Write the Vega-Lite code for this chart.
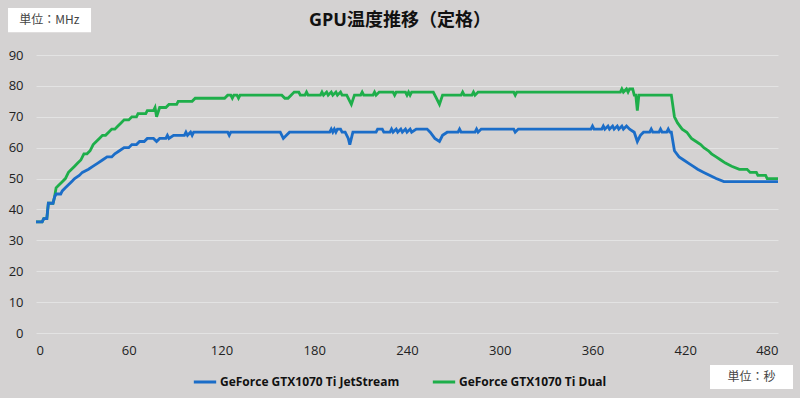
{
  "$schema": "https://vega.github.io/schema/vega-lite/v6.json",
  "width": 742,
  "height": 278,
  "autosize": {"type": "none"},
  "padding": {"left": 36, "top": 55, "right": 22, "bottom": 65},
  "background": "#d4d2d2",
  "title": {"text": "GPU温度推移（定格）", "fontSize": 18, "fontWeight": "bold", "font": "Open Sans, Noto Sans CJK JP", "color": "#111111", "offset": 0, "dy": 22, "dx": -7, "anchor": "middle"},
  "config": {
    "view": {"stroke": null},
    "axis": {"labelFont": "Open Sans", "labelFontSize": 13, "labelColor": "#222222", "ticks": false, "domain": false, "title": null, "labelOverlap": false},
    "legend": {"orient": "none", "legendX": 156, "legendY": 314, "direction": "horizontal", "symbolType": "stroke", "symbolStrokeWidth": 3, "symbolSize": 500, "labelFont": "Open Sans", "labelFontSize": 12, "labelFontWeight": "bold", "labelColor": "#111111", "labelLimit": 400, "columnPadding": 26, "labelOffset": 2, "title": null, "padding": 0}
  },
  "layer": [
    {
      "data": {"values": [
        {"s":"D","t":0,"v":36},{"s":"D","t":4,"v":36},{"s":"D","t":5,"v":37},{"s":"D","t":7,"v":37},{"s":"D","t":8,"v":42},{"s":"D","t":11,"v":42},{"s":"D","t":12,"v":44},{"s":"D","t":13,"v":47},{"s":"D","t":15,"v":48},{"s":"D","t":17,"v":49},{"s":"D","t":19,"v":50},{"s":"D","t":21,"v":52},{"s":"D","t":23,"v":53},{"s":"D","t":25,"v":54},{"s":"D","t":27,"v":55},{"s":"D","t":29,"v":56},{"s":"D","t":31,"v":58},{"s":"D","t":33,"v":58},{"s":"D","t":35,"v":59},{"s":"D","t":37,"v":61},{"s":"D","t":39,"v":62},{"s":"D","t":41,"v":63},{"s":"D","t":43,"v":64},{"s":"D","t":45,"v":64},{"s":"D","t":47,"v":65},{"s":"D","t":49,"v":66},{"s":"D","t":51,"v":66},{"s":"D","t":53,"v":67},{"s":"D","t":55,"v":68},{"s":"D","t":57,"v":69},{"s":"D","t":60,"v":69},{"s":"D","t":62,"v":70},{"s":"D","t":65,"v":70},{"s":"D","t":66,"v":71},{"s":"D","t":71,"v":71},{"s":"D","t":72,"v":72},{"s":"D","t":76,"v":72},{"s":"D","t":77,"v":73},{"s":"D","t":78,"v":70},{"s":"D","t":80,"v":73},{"s":"D","t":84,"v":73},{"s":"D","t":86,"v":74},{"s":"D","t":91,"v":74},{"s":"D","t":92,"v":75},{"s":"D","t":101,"v":75},{"s":"D","t":103,"v":76},{"s":"D","t":122,"v":76},{"s":"D","t":124,"v":77},{"s":"D","t":126,"v":77},{"s":"D","t":127,"v":76},{"s":"D","t":128,"v":77},{"s":"D","t":130,"v":77},{"s":"D","t":131,"v":76},{"s":"D","t":132,"v":77},
        {"s":"D","t":159,"v":77},{"s":"D","t":161,"v":76},{"s":"D","t":163,"v":76},{"s":"D","t":165,"v":77},{"s":"D","t":167,"v":78},{"s":"D","t":170,"v":78},{"s":"D","t":171,"v":77},{"s":"D","t":174,"v":77},{"s":"D","t":175,"v":78},{"s":"D","t":176,"v":77},{"s":"D","t":184,"v":77},{"s":"D","t":185,"v":78},{"s":"D","t":186,"v":77},{"s":"D","t":188,"v":78},{"s":"D","t":189,"v":77},{"s":"D","t":191,"v":78},{"s":"D","t":192,"v":77},{"s":"D","t":194,"v":78},{"s":"D","t":195,"v":77},{"s":"D","t":197,"v":78},{"s":"D","t":198,"v":77},{"s":"D","t":201,"v":77},{"s":"D","t":204,"v":74},{"s":"D","t":206,"v":77},{"s":"D","t":210,"v":77},{"s":"D","t":211,"v":78},{"s":"D","t":212,"v":77},{"s":"D","t":218,"v":77},{"s":"D","t":219,"v":78},{"s":"D","t":220,"v":77},{"s":"D","t":222,"v":78},{"s":"D","t":231,"v":78},{"s":"D","t":232,"v":77},{"s":"D","t":233,"v":78},{"s":"D","t":239,"v":78},{"s":"D","t":240,"v":77},{"s":"D","t":241,"v":78},{"s":"D","t":242,"v":77},{"s":"D","t":243,"v":78},{"s":"D","t":257,"v":78},{"s":"D","t":259,"v":76},{"s":"D","t":261,"v":74},{"s":"D","t":263,"v":77},{"s":"D","t":275,"v":77},{"s":"D","t":276,"v":78},{"s":"D","t":277,"v":77},{"s":"D","t":282,"v":77},{"s":"D","t":283,"v":78},{"s":"D","t":284,"v":77},{"s":"D","t":286,"v":78},{"s":"D","t":309,"v":78},{"s":"D","t":310,"v":77},{"s":"D","t":311,"v":78},{"s":"D","t":378,"v":78},{"s":"D","t":379,"v":79},{"s":"D","t":380,"v":78},{"s":"D","t":382,"v":79},{"s":"D","t":383,"v":78},{"s":"D","t":384,"v":79},{"s":"D","t":386,"v":79},{"s":"D","t":387,"v":77},{"s":"D","t":388,"v":77},{"s":"D","t":389,"v":72},{"s":"D","t":390,"v":77},{"s":"D","t":411,"v":77},{"s":"D","t":413,"v":70},{"s":"D","t":415,"v":68},{"s":"D","t":418,"v":66},{"s":"D","t":421,"v":65},{"s":"D","t":424,"v":63},{"s":"D","t":427,"v":62},{"s":"D","t":430,"v":61},{"s":"D","t":432,"v":60},{"s":"D","t":435,"v":59},{"s":"D","t":437,"v":58},{"s":"D","t":440,"v":57},{"s":"D","t":443,"v":56},{"s":"D","t":446,"v":55},{"s":"D","t":450,"v":54},{"s":"D","t":455,"v":53},{"s":"D","t":460,"v":53},{"s":"D","t":462,"v":52},{"s":"D","t":466,"v":52},{"s":"D","t":467,"v":51},{"s":"D","t":472,"v":51},{"s":"D","t":473,"v":50},{"s":"D","t":480,"v":50},
        {"s":"J","t":0,"v":36},{"s":"J","t":4,"v":36},{"s":"J","t":5,"v":37},{"s":"J","t":7,"v":37},{"s":"J","t":8,"v":42},{"s":"J","t":11,"v":42},{"s":"J","t":12,"v":44},{"s":"J","t":13,"v":45},{"s":"J","t":16,"v":45},{"s":"J","t":17,"v":46},{"s":"J","t":19,"v":47},{"s":"J","t":21,"v":48},{"s":"J","t":23,"v":49},{"s":"J","t":25,"v":50},{"s":"J","t":28,"v":51},{"s":"J","t":30,"v":52},{"s":"J","t":34,"v":53},{"s":"J","t":37,"v":54},{"s":"J","t":40,"v":55},{"s":"J","t":43,"v":56},{"s":"J","t":46,"v":57},{"s":"J","t":49,"v":57},{"s":"J","t":51,"v":58},{"s":"J","t":54,"v":59},{"s":"J","t":57,"v":60},{"s":"J","t":60,"v":60},{"s":"J","t":62,"v":61},{"s":"J","t":65,"v":61},{"s":"J","t":67,"v":62},{"s":"J","t":70,"v":62},{"s":"J","t":72,"v":63},{"s":"J","t":76,"v":63},{"s":"J","t":78,"v":62},{"s":"J","t":80,"v":63},{"s":"J","t":84,"v":63},{"s":"J","t":85,"v":64},{"s":"J","t":86,"v":63},{"s":"J","t":89,"v":64},{"s":"J","t":96,"v":64},{"s":"J","t":97,"v":65},{"s":"J","t":98,"v":64},{"s":"J","t":100,"v":65},{"s":"J","t":101,"v":64},{"s":"J","t":102,"v":65},{"s":"J","t":124,"v":65},{"s":"J","t":125,"v":64},{"s":"J","t":126,"v":65},
        {"s":"J","t":158,"v":65},{"s":"J","t":160,"v":63},{"s":"J","t":162,"v":64},{"s":"J","t":164,"v":65},{"s":"J","t":190,"v":65},{"s":"J","t":191,"v":66},{"s":"J","t":192,"v":65},{"s":"J","t":193,"v":66},{"s":"J","t":194,"v":65},{"s":"J","t":195,"v":66},{"s":"J","t":197,"v":66},{"s":"J","t":198,"v":65},{"s":"J","t":200,"v":65},{"s":"J","t":202,"v":63},{"s":"J","t":203,"v":61},{"s":"J","t":205,"v":65},{"s":"J","t":220,"v":65},{"s":"J","t":221,"v":66},{"s":"J","t":224,"v":66},{"s":"J","t":225,"v":65},{"s":"J","t":229,"v":65},{"s":"J","t":230,"v":66},{"s":"J","t":231,"v":65},{"s":"J","t":233,"v":66},{"s":"J","t":234,"v":65},{"s":"J","t":236,"v":66},{"s":"J","t":237,"v":65},{"s":"J","t":239,"v":66},{"s":"J","t":240,"v":65},{"s":"J","t":242,"v":66},{"s":"J","t":243,"v":65},{"s":"J","t":246,"v":66},{"s":"J","t":253,"v":66},{"s":"J","t":255,"v":65},{"s":"J","t":258,"v":63},{"s":"J","t":261,"v":62},{"s":"J","t":263,"v":64},{"s":"J","t":266,"v":65},{"s":"J","t":273,"v":65},{"s":"J","t":274,"v":66},{"s":"J","t":275,"v":65},{"s":"J","t":284,"v":65},{"s":"J","t":285,"v":66},{"s":"J","t":286,"v":65},{"s":"J","t":288,"v":66},{"s":"J","t":309,"v":66},{"s":"J","t":310,"v":65},{"s":"J","t":312,"v":66},{"s":"J","t":359,"v":66},{"s":"J","t":360,"v":67},{"s":"J","t":361,"v":66},{"s":"J","t":366,"v":66},{"s":"J","t":367,"v":67},{"s":"J","t":368,"v":66},{"s":"J","t":370,"v":67},{"s":"J","t":371,"v":66},{"s":"J","t":373,"v":67},{"s":"J","t":374,"v":66},{"s":"J","t":376,"v":67},{"s":"J","t":377,"v":66},{"s":"J","t":379,"v":67},{"s":"J","t":380,"v":66},{"s":"J","t":382,"v":67},{"s":"J","t":384,"v":66},{"s":"J","t":387,"v":65},{"s":"J","t":389,"v":62},{"s":"J","t":391,"v":64},{"s":"J","t":393,"v":65},{"s":"J","t":397,"v":65},{"s":"J","t":398,"v":66},{"s":"J","t":399,"v":65},{"s":"J","t":403,"v":65},{"s":"J","t":404,"v":66},{"s":"J","t":405,"v":65},{"s":"J","t":408,"v":65},{"s":"J","t":409,"v":66},{"s":"J","t":410,"v":65},{"s":"J","t":411,"v":65},{"s":"J","t":413,"v":59},{"s":"J","t":416,"v":57},{"s":"J","t":419,"v":56},{"s":"J","t":422,"v":55},{"s":"J","t":425,"v":54},{"s":"J","t":428,"v":53},{"s":"J","t":432,"v":52},{"s":"J","t":436,"v":51},{"s":"J","t":440,"v":50},{"s":"J","t":445,"v":49},{"s":"J","t":480,"v":49}
      ]},
      "mark": {"type": "line", "strokeWidth": 2.8, "interpolate": "linear"},
      "encoding": {
        "x": {"field": "t", "type": "quantitative", "scale": {"domain": [0, 480], "nice": false, "zero": false}, "axis": {"values": [0, 60, 120, 180, 240, 300, 360, 420, 480], "grid": false, "labelPadding": 11}},
        "y": {"field": "v", "type": "quantitative", "scale": {"domain": [0, 90], "nice": false}, "axis": {"values": [0, 10, 20, 30, 40, 50, 60, 70, 80, 90], "grid": true, "gridColor": "#e3e3e3", "gridWidth": 1, "labelPadding": 13}},
        "color": {"field": "s", "type": "nominal", "sort": ["J", "D"], "scale": {"domain": ["J", "D"], "range": ["#1b6dc8", "#1eae4a"]}, "legend": {"labelExpr": "datum.label == 'J' ? 'GeForce GTX1070 Ti JetStream' : 'GeForce GTX1070 Ti Dual'"}}
      }
    },
    {
      "data": {"values": [{"label": "単位：MHz"}]},
      "mark": {"type": "rect", "color": "#ffffff"},
      "encoding": {
        "x": {"datum": -18.1, "type": "quantitative", "axis": {"values": [0, 60, 120, 180, 240, 300, 360, 420, 480], "grid": false, "labelPadding": 11}},
        "x2": {"datum": 35.6},
        "y": {"datum": 105.2, "type": "quantitative", "axis": {"values": [0, 10, 20, 30, 40, 50, 60, 70, 80, 90], "grid": true, "gridColor": "#e3e3e3", "gridWidth": 1, "labelPadding": 13}},
        "y2": {"datum": 97.4}
      }
    },
    {
      "data": {"values": [{"label": "単位：MHz"}]},
      "mark": {"type": "text", "font": "Noto Sans CJK JP", "fontSize": 12, "color": "#444444", "align": "center", "baseline": "middle"},
      "encoding": {
        "x": {"datum": 8.7, "type": "quantitative", "axis": {"values": [0, 60, 120, 180, 240, 300, 360, 420, 480], "grid": false, "labelPadding": 11}},
        "y": {"datum": 101.3, "type": "quantitative", "axis": {"values": [0, 10, 20, 30, 40, 50, 60, 70, 80, 90], "grid": true, "gridColor": "#e3e3e3", "gridWidth": 1, "labelPadding": 13}},
        "text": {"field": "label"}
      }
    },
    {
      "data": {"values": [{"label": "単位：秒"}]},
      "mark": {"type": "rect", "color": "#ffffff"},
      "encoding": {
        "x": {"datum": 436.0, "type": "quantitative", "axis": {"values": [0, 60, 120, 180, 240, 300, 360, 420, 480], "grid": false, "labelPadding": 11}},
        "x2": {"datum": 489.7},
        "y": {"datum": -10.4, "type": "quantitative", "axis": {"values": [0, 10, 20, 30, 40, 50, 60, 70, 80, 90], "grid": true, "gridColor": "#e3e3e3", "gridWidth": 1, "labelPadding": 13}},
        "y2": {"datum": -18.1}
      }
    },
    {
      "data": {"values": [{"label": "単位：秒"}]},
      "mark": {"type": "text", "font": "Noto Sans CJK JP", "fontSize": 12, "color": "#444444", "align": "center", "baseline": "middle"},
      "encoding": {
        "x": {"datum": 462.9, "type": "quantitative", "axis": {"values": [0, 60, 120, 180, 240, 300, 360, 420, 480], "grid": false, "labelPadding": 11}},
        "y": {"datum": -14.2, "type": "quantitative", "axis": {"values": [0, 10, 20, 30, 40, 50, 60, 70, 80, 90], "grid": true, "gridColor": "#e3e3e3", "gridWidth": 1, "labelPadding": 13}},
        "text": {"field": "label"}
      }
    }
  ]
}
